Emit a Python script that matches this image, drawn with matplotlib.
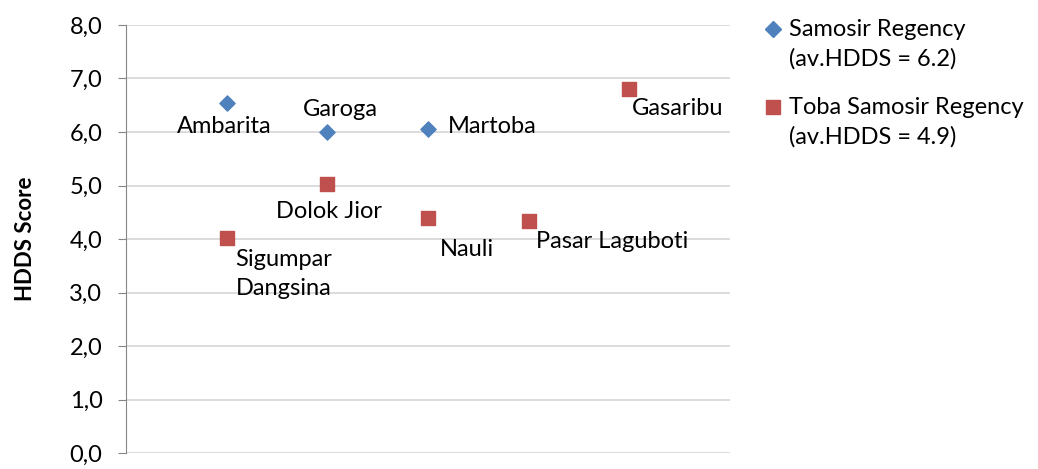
import matplotlib
matplotlib.use('Agg')
import matplotlib.pyplot as plt
from matplotlib.lines import Line2D
from matplotlib.ticker import FuncFormatter

plt.rcParams['font.family'] = ['Lato', 'DejaVu Sans']

# data
samosir_names = ['Ambarita', 'Garoga', 'Martoba']
samosir_x = [1, 2, 3]
samosir_hdds = [6.55, 6.0, 6.05]

toba_names = ['Sigumpar\nDangsina', 'Dolok Jior', 'Nauli', 'Pasar Laguboti', 'Gasaribu']
toba_x = [1, 2, 3, 4, 5]
toba_hdds = [4.02, 5.03, 4.39, 4.34, 6.80]

legend_titles = ['Samosir Regency', 'Toba Samosir Regency']
legend_avgs = ['(av.HDDS = 6.2)', '(av.HDDS = 4.9)']

# label placement (pixel offsets, alignment)
samosir_offsets = [((-2, -24), 'center'), ((13, 23), 'center'), ((20, 3), 'left')]
toba_offsets = [((57, -36), 'center'), ((2, -28), 'center'), ((39, -31), 'center'),
                ((7, -21), 'left'), ((3, -19), 'left')]

blue = '#4F81BD'
red = '#C0504D'
fs = 17

fig = plt.figure(figsize=(10.38, 4.69), dpi=100)
ax = fig.add_axes([0.1214, 0.0341, 0.7033 - 0.1214, 0.9467 - 0.0341])

ax.scatter(samosir_x, samosir_hdds, marker='D', s=60, color=blue, zorder=3)
ax.scatter(toba_x, toba_hdds, marker='s', s=110, color=red, zorder=3)

for name, x, y, (off, ha) in zip(samosir_names, samosir_x, samosir_hdds, samosir_offsets):
    ax.annotate(name, (x, y), xytext=off, textcoords='offset pixels',
                ha=ha, va='center', fontsize=fs, multialignment='center')
for name, x, y, (off, ha) in zip(toba_names, toba_x, toba_hdds, toba_offsets):
    ax.annotate(name, (x, y), xytext=off, textcoords='offset pixels',
                ha=ha, va='center', fontsize=fs, multialignment='center',
                linespacing=1.45)

ax.set_xlim(0, 6)
ax.set_ylim(0, 8)
ax.set_yticks(range(0, 9))
ax.yaxis.set_major_formatter(FuncFormatter(lambda v, p: f'{v:.1f}'.replace('.', ',')))
ax.set_xticks([])
ax.grid(axis='y', color='#D9D9D9', linewidth=1.3)
ax.set_axisbelow(True)
for s in ['top', 'right', 'bottom']:
    ax.spines[s].set_visible(False)
ax.spines['left'].set_color('#868686')
ax.tick_params(axis='y', length=6, color='#868686', labelsize=fs, pad=11)
ax.set_ylabel('HDDS Score', fontsize=16, fontweight='bold', labelpad=24)

# legend drawn by hand so the marker sits on the first line
W, H = 1038, 469
for i, (title, avg, mk, ms, col) in enumerate(zip(legend_titles, legend_avgs,
                                                 ['D', 's'], [8, 10], [blue, red])):
    y0 = 29 + i * 78
    fig.add_artist(Line2D([773 / W], [1 - y0 / H], marker=mk, markersize=ms,
                          color=col, linestyle='none', transform=fig.transFigure))
    fig.text(789 / W, 1 - y0 / H, title, fontsize=fs, va='center', ha='left')
    fig.text(789 / W, 1 - (y0 + 30) / H, avg, fontsize=fs, va='center', ha='left')

fig.savefig('out.png', dpi=100)
